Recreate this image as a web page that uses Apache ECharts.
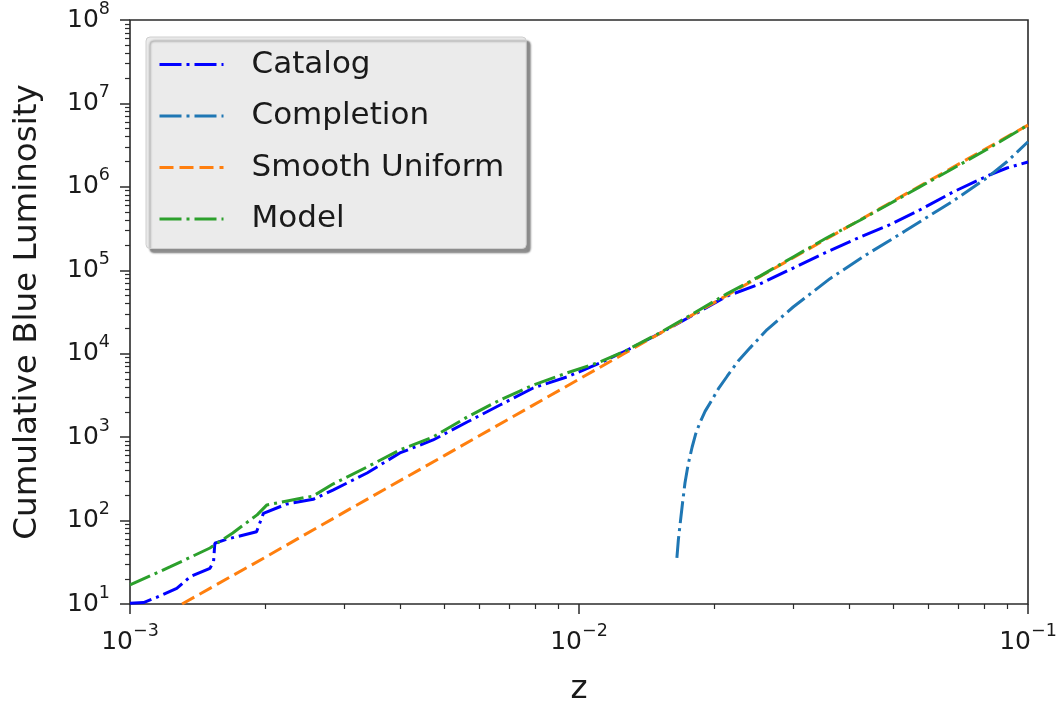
<!DOCTYPE html>
<html>
<head>
<meta charset="utf-8">
<script src="https://cdn.jsdelivr.net/npm/echarts@6/dist/echarts.min.js"></script>
<style>
  html, body { margin: 0; padding: 0; background: #ffffff; }
  #chart { width: 1062px; height: 703px; }
</style>
</head>
<body>
<div id="chart"></div>
<script>
// Cumulative blue luminosity versus redshift z (log-log)

const catalogZ = [0.001000, 0.001072, 0.001146, 0.001271, 0.001361, 0.001507, 0.001535, 0.001545,
  0.001641, 0.001914, 0.001982, 0.002234, 0.002559, 0.002831, 0.003373, 0.003990, 0.004732,
  0.005636, 0.006668, 0.007907, 0.009397, 0.011143, 0.012794, 0.015136, 0.017947, 0.021380,
  0.025293, 0.029992, 0.035645, 0.042267, 0.048529, 0.057412, 0.068077, 0.081096, 0.089743, 0.1];
const catalogL = [10.2, 10.4, 12.0, 15.4, 21.2, 26.8, 32.1, 53.5,
  59.7, 73.6, 122, 158, 180, 232, 372, 646, 925,
  1517, 2427, 3882, 5260, 7745, 11000, 17500, 29000, 49200,
  68500, 106400, 165600, 250600, 339600, 528400, 867000, 1349000, 1683000, 1986000];

const completionZ = [0.016520, 0.016650, 0.016788, 0.017000, 0.017219, 0.017500, 0.017865,
  0.018200, 0.018578, 0.019100, 0.019770, 0.020500, 0.021380, 0.022600, 0.024044, 0.026242,
  0.029992, 0.036224, 0.043752, 0.053211, 0.068077, 0.081096, 0.089743, 0.1];
const completionL = [35.6, 60, 88.5, 160, 282, 470, 762,
  1100, 1479, 2050, 2786, 3900, 5370, 8100, 11750, 19500,
  36300, 79400, 155000, 295000, 676000, 1290000, 2000000, 3470000];

const uniformZ = [0.001306, 0.001995, 0.003162, 0.005012, 0.007943, 0.01259, 0.01995,
  0.03162, 0.05012, 0.07943, 0.1];
const uniformL = [10, 36, 148, 600, 2450, 10000, 40700, 166000, 676000, 2750000, 5500000];

const modelZ = [0.001000, 0.001227, 0.001507, 0.001694, 0.001919, 0.002018, 0.002239, 0.002559,
  0.002831, 0.003373, 0.003990, 0.004732, 0.005636, 0.006668, 0.007907, 0.009397, 0.011143,
  0.012794, 0.015136, 0.017947, 0.021380, 0.025293, 0.029992, 0.035645, 0.042267, 0.048529,
  0.057412, 0.068077, 0.081096, 0.1];
const modelL = [16.9, 27.8, 46.9, 71.0, 117, 154, 172, 197,
  274, 439, 702, 1005, 1742, 2786, 4217, 5875, 7962,
  11070, 17800, 30200, 52500, 85100, 144500, 245500, 398000, 602600,
  1000000, 1660000, 2820000, 5510000];

const seriesNames = ['Catalog', 'Completion', 'Smooth Uniform', 'Model'];

// minor tick positions (2..9 within each decade)
const xMinorTicks = [0.002, 0.003, 0.004, 0.005, 0.006, 0.007, 0.008, 0.009,
  0.02, 0.03, 0.04, 0.05, 0.06, 0.07, 0.08, 0.09];
const yMinorTicks = [];
[10, 100, 1e3, 1e4, 1e5, 1e6, 1e7].forEach(function (d) {
  [2, 3, 4, 5, 6, 7, 8, 9].forEach(function (m) { yMinorTicks.push(m * d); });
});

const FONT = 'DejaVu Sans';
const INK = '#1a1a1a';
const FRAME = '#2b2b2b';

function pairs(xs, ys) {
  return xs.map(function (x, i) { return [x, ys[i]]; });
}

// "10" with a raised exponent
function pow10Label(v) {
  const e = Math.round(Math.log10(v));
  const exp = e < 0 ? '\u2212' + (-e) : String(e);
  return '{b|10}{s|' + exp + '}';
}

const labelRich = {
  b: { fontFamily: FONT, fontSize: 25, color: INK, lineHeight: 40 },
  s: { fontFamily: FONT, fontSize: 17.5, color: INK, lineHeight: 16, verticalAlign: 'top' }
};

function lineSeries(name, data, color, dash) {
  return {
    name: name,
    type: 'line',
    data: data,
    xAxisIndex: 0,
    yAxisIndex: 0,
    symbol: 'none',
    showSymbol: false,
    smooth: false,
    clip: true,
    itemStyle: { color: color },
    lineStyle: { color: color, width: 3, type: dash, cap: 'butt' },
    emphasis: { disabled: true }
  };
}

const dashDot = [22, 5, 3, 5];
const dashed = [14, 6];

const chart = echarts.init(document.getElementById('chart'), null, { renderer: 'canvas' });

chart.setOption({
  animation: false,
  backgroundColor: '#ffffff',
  grid: {
    left: 130, right: 34, top: 20, bottom: 99,
    outerBoundsMode: 'none',
    containLabel: false,
    show: true, borderColor: FRAME, borderWidth: 1.6, backgroundColor: 'transparent'
  },
  legend: {
    orient: 'vertical',
    left: 146, top: 37,
    padding: [12, 22, 14, 12],
    itemWidth: 64, itemHeight: 14, itemGap: 20.5,
    backgroundColor: '#ebebeb',
    borderColor: '#cfcfcf', borderWidth: 1, borderRadius: 4,
    shadowColor: 'rgba(0,0,0,0.45)', shadowBlur: 2, shadowOffsetX: 4, shadowOffsetY: 4,
    itemStyle: { color: 'transparent', borderWidth: 0, opacity: 0 },
    lineStyle: { width: 3, type: 'inherit' },
    textStyle: { fontFamily: FONT, fontSize: 31, color: INK, lineHeight: 31, padding: [0, 0, 0, 23] },
    data: seriesNames,
    selectedMode: false
  },
  xAxis: [
    {
      type: 'log', logBase: 10, min: 0.001, max: 0.1, interval: 1,
      position: 'bottom',
      name: 'z', nameLocation: 'middle', nameGap: 69,
      nameTextStyle: { fontFamily: FONT, fontSize: 32.5, color: INK },
      axisLine: { show: false },
      axisTick: { show: true, inside: false, length: 10, lineStyle: { color: FRAME, width: 1.5 } },
      axisLabel: { margin: 18, formatter: pow10Label, rich: labelRich },
      splitLine: { show: false },
      minorTick: { show: false }
    },
    {
      type: 'log', logBase: 10, min: 0.001, max: 0.1,
      position: 'bottom',
      axisLine: { show: false },
      axisTick: { show: true, inside: false, length: 5, customValues: xMinorTicks, lineStyle: { color: FRAME, width: 1.2 } },
      axisLabel: { show: false },
      splitLine: { show: false }
    }
  ],
  yAxis: [
    {
      type: 'log', logBase: 10, min: 10, max: 1e8, interval: 1,
      position: 'left',
      name: 'Cumulative Blue Luminosity', nameLocation: 'middle', nameGap: 86,
      nameTextStyle: { fontFamily: FONT, fontSize: 32.5, color: INK },
      axisLine: { show: false },
      axisTick: { show: true, inside: false, length: 10, lineStyle: { color: FRAME, width: 1.5 } },
      axisLabel: { margin: 20, formatter: pow10Label, rich: labelRich },
      splitLine: { show: false },
      minorTick: { show: false }
    },
    {
      type: 'log', logBase: 10, min: 10, max: 1e8,
      position: 'left',
      axisLine: { show: false },
      axisTick: { show: true, inside: false, length: 5, customValues: yMinorTicks, lineStyle: { color: FRAME, width: 1.2 } },
      axisLabel: { show: false },
      splitLine: { show: false }
    }
  ],
  series: [
    lineSeries('Catalog', pairs(catalogZ, catalogL), '#0000ff', dashDot),
    lineSeries('Completion', pairs(completionZ, completionL), '#1f77b4', dashDot),
    lineSeries('Smooth Uniform', pairs(uniformZ, uniformL), '#ff7f0e', dashed),
    lineSeries('Model', pairs(modelZ, modelL), '#2ca02c', dashDot)
  ]
});
</script>
</body>
</html>
